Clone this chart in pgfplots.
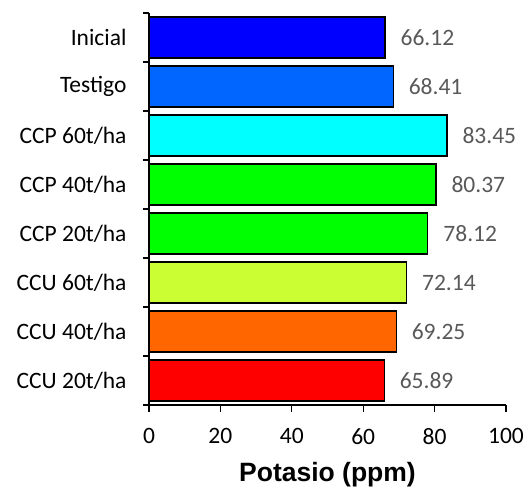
\documentclass[border=0pt]{standalone}
\usepackage{pgfplots}
\pgfplotsset{compat=1.18}
\usepackage{fontspec}
\setmainfont{Carlito}
\newfontfamily\arialfont{Liberation Sans}
\definecolor{cA}{HTML}{0000FF}
\definecolor{cB}{HTML}{0066FF}
\definecolor{cC}{HTML}{00FFFF}
\definecolor{cD}{HTML}{00FF00}
\definecolor{cE}{HTML}{00FF00}
\definecolor{cF}{HTML}{CCFF33}
\definecolor{cG}{HTML}{FF6600}
\definecolor{cH}{HTML}{FF0000}
\definecolor{lblgray}{HTML}{595959}
\begin{document}
\begin{tikzpicture}
\begin{axis}[
  name=ax,
  scale only axis,
  width=357pt, height=392pt,
  xmin=0, xmax=100, ymin=-0.5, ymax=7.5,
  axis x line*=bottom, axis y line*=left,
  axis line style={black, line width=1.2pt},
  xtick={0,20,...,100},
  ytick={0,...,7},
  yticklabels={CCU 20t/ha, CCU 40t/ha, CCU 60t/ha, CCP 20t/ha, CCP 40t/ha, CCP 60t/ha, Testigo, Inicial},
  minor ytick={-0.5,0.5,...,7.5},
  tick align=outside,
  major tick length=7pt,
  minor tick length=6pt,
  every y tick/.style={draw=none},
  every minor y tick/.style={draw=black, line width=1.2pt},
  every x tick/.style={black, line width=1.2pt},
  tick label style={font=\fontsize{23.5}{26}\selectfont, black},
  xticklabel style={yshift=-13pt},
  yticklabel style={xshift=-12pt},
  /pgf/number format/assume math mode=true,
  xlabel={\arialfont\bfseries Potasio (ppm)},
  xlabel style={font=\fontsize{26.5}{29}\selectfont, yshift=-11pt},
  xbar, bar width=0.84, bar shift=0pt,
  point meta=explicit symbolic,
  nodes near coords,
  every node near coord/.append style={font=\fontsize{23.5}{26}\selectfont, text=lblgray, anchor=west, inner sep=0pt, xshift=15pt},
  clip=false,
]
\addplot[fill=cA, draw=black, line width=1.2pt] coordinates {(66.12,7) [66.12]};
\addplot[fill=cB, draw=black, line width=1.2pt] coordinates {(68.41,6) [68.41]};
\addplot[fill=cC, draw=black, line width=1.2pt] coordinates {(83.45,5) [83.45]};
\addplot[fill=cD, draw=black, line width=1.2pt] coordinates {(80.37,4) [80.37]};
\addplot[fill=cE, draw=black, line width=1.2pt] coordinates {(78.12,3) [78.12]};
\addplot[fill=cF, draw=black, line width=1.2pt] coordinates {(72.14,2) [72.14]};
\addplot[fill=cG, draw=black, line width=1.2pt] coordinates {(69.25,1) [69.25]};
\addplot[fill=cH, draw=black, line width=1.2pt] coordinates {(65.89,0) [65.89]};
\end{axis}
\path ([xshift=-149pt,yshift=-83pt]ax.south west) rectangle ([xshift=23pt,yshift=13pt]ax.north east);
\end{tikzpicture}
\end{document}
